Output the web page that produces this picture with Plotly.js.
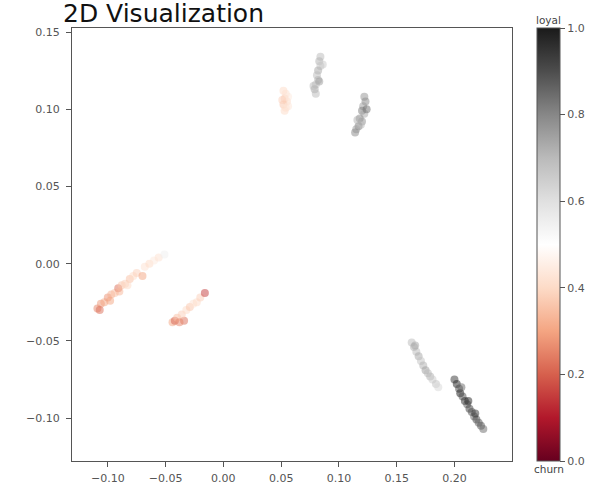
<!DOCTYPE html>
<html>
<head>
<meta charset="utf-8">
<script src="https://cdn.plot.ly/plotly-3.0.1.min.js"></script>
<style>html,body{margin:0;padding:0;background:#fff;}#chart{width:598px;height:486px;}</style>
</head>
<body>
<div id="chart"></div>
<script>
// Cluster data: x, y and colour value (0 = churn, 1 = loyal)
const clusterAx = [-0.109,-0.106,-0.103,-0.100,-0.097,-0.094,-0.091,-0.088,-0.085,-0.081,-0.078,-0.075,-0.070,-0.068,-0.064,-0.060,-0.056,-0.051,-0.107,-0.098,-0.090,-0.083];
const clusterAy = [-0.029,-0.026,-0.025,-0.022,-0.020,-0.019,-0.016,-0.014,-0.013,-0.010,-0.008,-0.006,-0.008,-0.002,0.000,0.002,0.004,0.006,-0.030,-0.024,-0.018,-0.014];
const clusterAc = [0.25,0.28,0.30,0.27,0.32,0.35,0.22,0.36,0.38,0.35,0.40,0.38,0.30,0.42,0.40,0.44,0.42,0.55,0.22,0.30,0.33,0.40];

const clusterBx = [-0.044,-0.042,-0.040,-0.034,-0.036,-0.032,-0.029,-0.026,-0.023,-0.020,-0.016,-0.038];
const clusterBy = [-0.038,-0.037,-0.035,-0.037,-0.033,-0.030,-0.028,-0.026,-0.025,-0.022,-0.019,-0.038];
const clusterBc = [0.30,0.20,0.35,0.22,0.38,0.40,0.36,0.42,0.40,0.38,0.15,0.25];

const clusterCx = [0.052,0.054,0.053,0.055,0.052,0.054,0.056,0.053,0.051,0.056];
const clusterCy = [0.112,0.110,0.107,0.105,0.103,0.101,0.108,0.099,0.106,0.102];
const clusterCc = [0.40,0.42,0.38,0.40,0.36,0.42,0.44,0.40,0.38,0.43];

const clusterDx = [0.084,0.083,0.084,0.082,0.081,0.082,0.080,0.079,0.080,0.086,0.083,0.078];
const clusterDy = [0.134,0.131,0.128,0.125,0.122,0.119,0.116,0.113,0.110,0.129,0.118,0.115];
const clusterDc = [0.70,0.72,0.68,0.74,0.70,0.72,0.68,0.74,0.70,0.66,0.76,0.70];

const clusterEx = [0.122,0.123,0.121,0.120,0.122,0.118,0.120,0.117,0.115,0.114,0.119,0.124,0.116];
const clusterEy = [0.108,0.105,0.102,0.099,0.097,0.094,0.092,0.089,0.087,0.085,0.090,0.100,0.093];
const clusterEc = [0.78,0.80,0.76,0.82,0.74,0.80,0.78,0.82,0.76,0.80,0.70,0.84,0.72];

const clusterFx = [0.163,0.165,0.167,0.169,0.171,0.173,0.175,0.177,0.179,0.181,0.184,0.186,0.166];
const clusterFy = [-0.051,-0.054,-0.057,-0.060,-0.063,-0.066,-0.069,-0.071,-0.073,-0.075,-0.078,-0.080,-0.053];
const clusterFc = [0.70,0.72,0.70,0.74,0.68,0.72,0.76,0.70,0.72,0.66,0.68,0.62,0.74];

const clusterGx = [0.200,0.202,0.204,0.205,0.207,0.209,0.211,0.213,0.215,0.217,0.219,0.221,0.223,0.225,0.206,0.212,0.218];
const clusterGy = [-0.075,-0.078,-0.081,-0.084,-0.086,-0.089,-0.091,-0.094,-0.096,-0.099,-0.101,-0.103,-0.105,-0.107,-0.080,-0.089,-0.097];
const clusterGc = [0.95,0.98,0.92,1.00,0.90,0.96,0.88,0.94,0.90,0.86,0.92,0.88,0.90,0.85,0.85,0.98,0.95];

const colorTicks = [0.0,0.2,0.4,0.6,0.8,1.0];
const colorTickLabels = ["0.0","0.2","0.4","0.6","0.8","1.0"];
const xTicks = [-0.10,-0.05,0.00,0.05,0.10,0.15,0.20];
const yTicks = [-0.10,-0.05,0.00,0.05,0.10,0.15];

const allX = [].concat(clusterAx,clusterBx,clusterCx,clusterDx,clusterEx,clusterFx,clusterGx);
const allY = [].concat(clusterAy,clusterBy,clusterCy,clusterDy,clusterEy,clusterFy,clusterGy);
const allC = [].concat(clusterAc,clusterBc,clusterCc,clusterDc,clusterEc,clusterFc,clusterGc);

const rdgy = [
  [0.0,'#67001f'],[0.1,'#b2182b'],[0.2,'#d6604d'],[0.3,'#f4a582'],[0.4,'#fddbc7'],
  [0.5,'#ffffff'],[0.6,'#e0e0e0'],[0.7,'#bababa'],[0.8,'#878787'],[0.9,'#4d4d4d'],[1.0,'#1a1a1a']
];

const tickFont = {family:'DejaVu Sans', size:11, color:'#555'};

const trace = {
  type:'scatter', mode:'markers', x:allX, y:allY,
  marker:{
    size:8, opacity:0.5, color:allC, cmin:0, cmax:1, colorscale:rdgy,
    line:{width:0},
    colorbar:{
      x:(540-72)/443, xanchor:'left', xpad:0, thickness:23, thicknessmode:'pixels',
      y:0.5, yanchor:'middle', len:1, lenmode:'fraction', ypad:0,
      outlinewidth:1, outlinecolor:'#555',
      tickvals:colorTicks, ticktext:colorTickLabels, ticks:'outside', ticklen:5,
      tickcolor:'#555', tickfont:tickFont
    }
  },
  showlegend:false, hoverinfo:'skip'
};

const layout = {
  width:598, height:486,
  margin:{l:72, r:83, t:28, b:25},
  paper_bgcolor:'#fff', plot_bgcolor:'#fff',
  title:{text:'2D Visualization', font:{family:'DejaVu Sans', size:25, color:'#111'},
         x:63/598, xanchor:'left', xref:'container', y:1-4/486, yanchor:'top', yref:'container', pad:{t:0}},
  xaxis:{range:[-0.131,0.2498], tickvals:xTicks, tickformat:'.2f', showgrid:false, zeroline:false,
         showline:true, mirror:true, linecolor:'#555', linewidth:1, ticks:'outside', ticklen:5,
         ticklabelstandoff:2, tickcolor:'#555', tickfont:tickFont},
  yaxis:{range:[-0.1278,0.1526], tickvals:yTicks, tickformat:'.2f', showgrid:false, zeroline:false,
         showline:true, mirror:true, linecolor:'#555', linewidth:1, ticks:'outside', ticklen:5,
         ticklabelstandoff:4, tickcolor:'#555', tickfont:tickFont},
  annotations:[
    {text:'loyal', xref:'paper', yref:'paper', x:(552-72)/443, xanchor:'center', y:1, yanchor:'bottom', yshift:0,
     showarrow:false, font:{family:'DejaVu Sans', size:10.5, color:'#444'}},
    {text:'churn', xref:'paper', yref:'paper', x:(552-72)/443, xanchor:'center', y:0, yanchor:'top', yshift:0,
     showarrow:false, font:{family:'DejaVu Sans', size:10.5, color:'#444'}}
  ]
};

Plotly.newPlot('chart',[trace],layout,{displayModeBar:false, staticPlot:true});
</script>
</body>
</html>
